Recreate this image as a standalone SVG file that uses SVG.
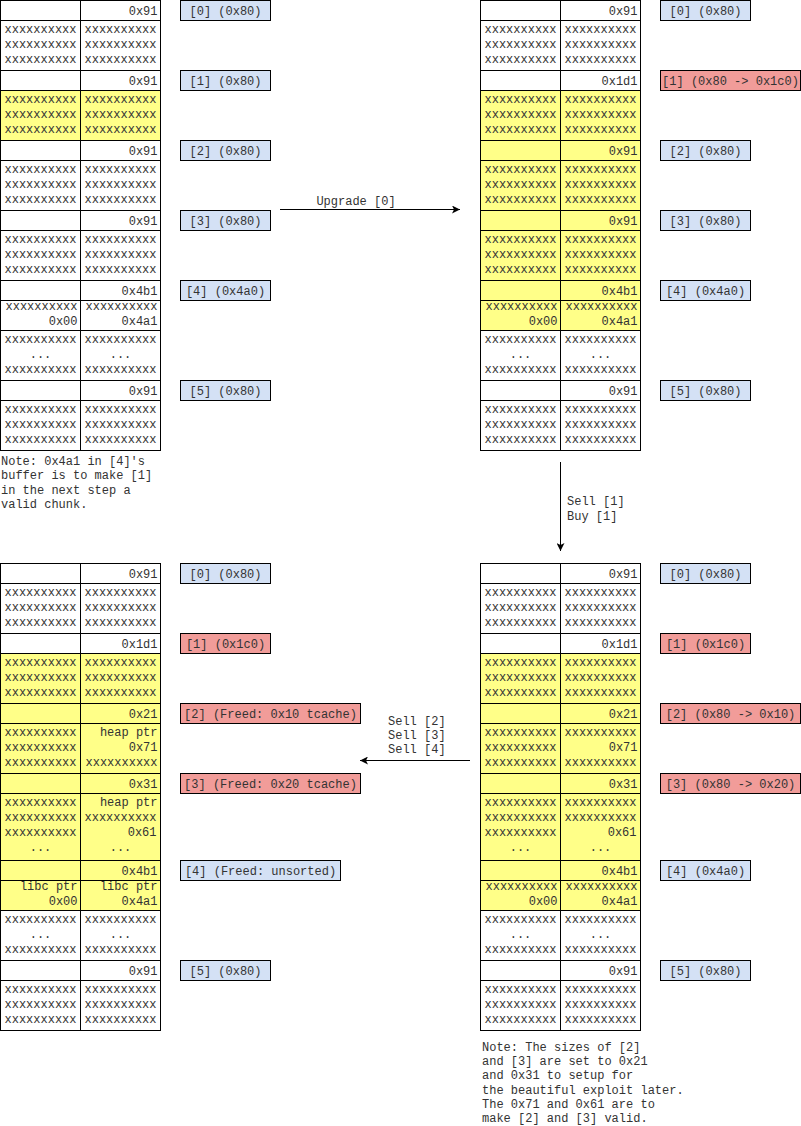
<svg xmlns="http://www.w3.org/2000/svg" width="801" height="1126" viewBox="0 0 801 1126">
  <defs>
    <style>
      .cell{fill:#ffffff;stroke:#000000;stroke-width:1}
      .hl{fill:#ffff88}
      text{font-family:"Liberation Mono","Courier New",monospace;font-size:12px;fill:#333333}
      .r{text-anchor:end}
      .m{text-anchor:middle}
      .lab{stroke:#000000;stroke-width:1}
      .blue{fill:#d4e1f5}
      .red{fill:#f19c99}
      .edge{stroke:#000000;stroke-width:1;fill:none;marker-end:url(#arrow)}
    </style>
    <marker id="arrow" viewBox="0 0 10 10" refX="10" refY="5" markerWidth="8" markerHeight="8" orient="auto" markerUnits="userSpaceOnUse">
      <path d="M0,0 L10,5 L0,10 L2.5,5 Z" fill="#000000"/>
    </marker>
  </defs>

  <!-- Heap state 1: initial layout -->
  <g id="heap-initial" transform="translate(0.5,0.5)">
    <rect class="cell" x="0" y="0" width="80" height="20"/><rect class="cell" x="80" y="0" width="80" height="20"/>
    <text class="r" x="157" y="14">0x91</text>
    <rect class="cell" x="0" y="20" width="80" height="50"/><rect class="cell" x="80" y="20" width="80" height="50"/>
    <text class="m" x="40" y="32">xxxxxxxxxx<tspan x="40" dy="15">xxxxxxxxxx</tspan><tspan x="40" dy="15">xxxxxxxxxx</tspan></text>
    <text class="m" x="120" y="32">xxxxxxxxxx<tspan x="120" dy="15">xxxxxxxxxx</tspan><tspan x="120" dy="15">xxxxxxxxxx</tspan></text>
    <rect class="cell" x="0" y="70" width="80" height="20"/><rect class="cell" x="80" y="70" width="80" height="20"/>
    <text class="r" x="157" y="84">0x91</text>
    <rect class="cell hl" x="0" y="90" width="80" height="50"/><rect class="cell hl" x="80" y="90" width="80" height="50"/>
    <text class="m" x="40" y="102">xxxxxxxxxx<tspan x="40" dy="15">xxxxxxxxxx</tspan><tspan x="40" dy="15">xxxxxxxxxx</tspan></text>
    <text class="m" x="120" y="102">xxxxxxxxxx<tspan x="120" dy="15">xxxxxxxxxx</tspan><tspan x="120" dy="15">xxxxxxxxxx</tspan></text>
    <rect class="cell" x="0" y="140" width="80" height="20"/><rect class="cell" x="80" y="140" width="80" height="20"/>
    <text class="r" x="157" y="154">0x91</text>
    <rect class="cell" x="0" y="160" width="80" height="50"/><rect class="cell" x="80" y="160" width="80" height="50"/>
    <text class="m" x="40" y="172">xxxxxxxxxx<tspan x="40" dy="15">xxxxxxxxxx</tspan><tspan x="40" dy="15">xxxxxxxxxx</tspan></text>
    <text class="m" x="120" y="172">xxxxxxxxxx<tspan x="120" dy="15">xxxxxxxxxx</tspan><tspan x="120" dy="15">xxxxxxxxxx</tspan></text>
    <rect class="cell" x="0" y="210" width="80" height="20"/><rect class="cell" x="80" y="210" width="80" height="20"/>
    <text class="r" x="157" y="224">0x91</text>
    <rect class="cell" x="0" y="230" width="80" height="50"/><rect class="cell" x="80" y="230" width="80" height="50"/>
    <text class="m" x="40" y="242">xxxxxxxxxx<tspan x="40" dy="15">xxxxxxxxxx</tspan><tspan x="40" dy="15">xxxxxxxxxx</tspan></text>
    <text class="m" x="120" y="242">xxxxxxxxxx<tspan x="120" dy="15">xxxxxxxxxx</tspan><tspan x="120" dy="15">xxxxxxxxxx</tspan></text>
    <rect class="cell" x="0" y="280" width="80" height="20"/><rect class="cell" x="80" y="280" width="80" height="20"/>
    <text class="r" x="157" y="294">0x4b1</text>
    <rect class="cell" x="0" y="300" width="80" height="30"/><rect class="cell" x="80" y="300" width="80" height="30"/>
    <text class="r" x="77" y="309">xxxxxxxxxx<tspan x="77" dy="15">0x00</tspan></text>
    <text class="r" x="157" y="309">xxxxxxxxxx<tspan x="157" dy="15">0x4a1</tspan></text>
    <rect class="cell" x="0" y="330" width="80" height="50"/><rect class="cell" x="80" y="330" width="80" height="50"/>
    <text class="m" x="40" y="342">xxxxxxxxxx<tspan x="40" dy="15">...</tspan><tspan x="40" dy="15">xxxxxxxxxx</tspan></text>
    <text class="m" x="120" y="342">xxxxxxxxxx<tspan x="120" dy="15">...</tspan><tspan x="120" dy="15">xxxxxxxxxx</tspan></text>
    <rect class="cell" x="0" y="380" width="80" height="20"/><rect class="cell" x="80" y="380" width="80" height="20"/>
    <text class="r" x="157" y="394">0x91</text>
    <rect class="cell" x="0" y="400" width="80" height="50"/><rect class="cell" x="80" y="400" width="80" height="50"/>
    <text class="m" x="40" y="412">xxxxxxxxxx<tspan x="40" dy="15">xxxxxxxxxx</tspan><tspan x="40" dy="15">xxxxxxxxxx</tspan></text>
    <text class="m" x="120" y="412">xxxxxxxxxx<tspan x="120" dy="15">xxxxxxxxxx</tspan><tspan x="120" dy="15">xxxxxxxxxx</tspan></text>
  </g>

  <g id="labels-initial" transform="translate(0.5,0.5)">
    <g id="l1-0"><rect class="lab blue" x="180" y="0" width="90" height="20"/><text class="m" x="225" y="14">[0] (0x80)</text></g>
    <g id="l1-1"><rect class="lab blue" x="180" y="70" width="90" height="20"/><text class="m" x="225" y="84">[1] (0x80)</text></g>
    <g id="l1-2"><rect class="lab blue" x="180" y="140" width="90" height="20"/><text class="m" x="225" y="154">[2] (0x80)</text></g>
    <g id="l1-3"><rect class="lab blue" x="180" y="210" width="90" height="20"/><text class="m" x="225" y="224">[3] (0x80)</text></g>
    <g id="l1-4"><rect class="lab blue" x="180" y="280" width="90" height="20"/><text class="m" x="225" y="294">[4] (0x4a0)</text></g>
    <g id="l1-5"><rect class="lab blue" x="180" y="380" width="90" height="20"/><text class="m" x="225" y="394">[5] (0x80)</text></g>
  </g>

  <g id="note-1">
    <text x="1" y="465">Note: 0x4a1 in [4]'s<tspan x="1" dy="14.4">buffer is to make [1]</tspan><tspan x="1" dy="14.4">in the next step a</tspan><tspan x="1" dy="14.4">valid chunk.</tspan></text>
  </g>

  <!-- Heap state 2: after upgrade of [0] -->
  <g id="heap-upgraded" transform="translate(480.5,0.5)">
    <rect class="cell" x="0" y="0" width="80" height="20"/><rect class="cell" x="80" y="0" width="80" height="20"/>
    <text class="r" x="157" y="14">0x91</text>
    <rect class="cell" x="0" y="20" width="80" height="50"/><rect class="cell" x="80" y="20" width="80" height="50"/>
    <text class="m" x="40" y="32">xxxxxxxxxx<tspan x="40" dy="15">xxxxxxxxxx</tspan><tspan x="40" dy="15">xxxxxxxxxx</tspan></text>
    <text class="m" x="120" y="32">xxxxxxxxxx<tspan x="120" dy="15">xxxxxxxxxx</tspan><tspan x="120" dy="15">xxxxxxxxxx</tspan></text>
    <rect class="cell" x="0" y="70" width="80" height="20"/><rect class="cell" x="80" y="70" width="80" height="20"/>
    <text class="r" x="157" y="84">0x1d1</text>
    <rect class="cell hl" x="0" y="90" width="80" height="50"/><rect class="cell hl" x="80" y="90" width="80" height="50"/>
    <text class="m" x="40" y="102">xxxxxxxxxx<tspan x="40" dy="15">xxxxxxxxxx</tspan><tspan x="40" dy="15">xxxxxxxxxx</tspan></text>
    <text class="m" x="120" y="102">xxxxxxxxxx<tspan x="120" dy="15">xxxxxxxxxx</tspan><tspan x="120" dy="15">xxxxxxxxxx</tspan></text>
    <rect class="cell hl" x="0" y="140" width="80" height="20"/><rect class="cell hl" x="80" y="140" width="80" height="20"/>
    <text class="r" x="157" y="154">0x91</text>
    <rect class="cell hl" x="0" y="160" width="80" height="50"/><rect class="cell hl" x="80" y="160" width="80" height="50"/>
    <text class="m" x="40" y="172">xxxxxxxxxx<tspan x="40" dy="15">xxxxxxxxxx</tspan><tspan x="40" dy="15">xxxxxxxxxx</tspan></text>
    <text class="m" x="120" y="172">xxxxxxxxxx<tspan x="120" dy="15">xxxxxxxxxx</tspan><tspan x="120" dy="15">xxxxxxxxxx</tspan></text>
    <rect class="cell hl" x="0" y="210" width="80" height="20"/><rect class="cell hl" x="80" y="210" width="80" height="20"/>
    <text class="r" x="157" y="224">0x91</text>
    <rect class="cell hl" x="0" y="230" width="80" height="50"/><rect class="cell hl" x="80" y="230" width="80" height="50"/>
    <text class="m" x="40" y="242">xxxxxxxxxx<tspan x="40" dy="15">xxxxxxxxxx</tspan><tspan x="40" dy="15">xxxxxxxxxx</tspan></text>
    <text class="m" x="120" y="242">xxxxxxxxxx<tspan x="120" dy="15">xxxxxxxxxx</tspan><tspan x="120" dy="15">xxxxxxxxxx</tspan></text>
    <rect class="cell hl" x="0" y="280" width="80" height="20"/><rect class="cell hl" x="80" y="280" width="80" height="20"/>
    <text class="r" x="157" y="294">0x4b1</text>
    <rect class="cell hl" x="0" y="300" width="80" height="30"/><rect class="cell hl" x="80" y="300" width="80" height="30"/>
    <text class="r" x="77" y="309">xxxxxxxxxx<tspan x="77" dy="15">0x00</tspan></text>
    <text class="r" x="157" y="309">xxxxxxxxxx<tspan x="157" dy="15">0x4a1</tspan></text>
    <rect class="cell" x="0" y="330" width="80" height="50"/><rect class="cell" x="80" y="330" width="80" height="50"/>
    <text class="m" x="40" y="342">xxxxxxxxxx<tspan x="40" dy="15">...</tspan><tspan x="40" dy="15">xxxxxxxxxx</tspan></text>
    <text class="m" x="120" y="342">xxxxxxxxxx<tspan x="120" dy="15">...</tspan><tspan x="120" dy="15">xxxxxxxxxx</tspan></text>
    <rect class="cell" x="0" y="380" width="80" height="20"/><rect class="cell" x="80" y="380" width="80" height="20"/>
    <text class="r" x="157" y="394">0x91</text>
    <rect class="cell" x="0" y="400" width="80" height="50"/><rect class="cell" x="80" y="400" width="80" height="50"/>
    <text class="m" x="40" y="412">xxxxxxxxxx<tspan x="40" dy="15">xxxxxxxxxx</tspan><tspan x="40" dy="15">xxxxxxxxxx</tspan></text>
    <text class="m" x="120" y="412">xxxxxxxxxx<tspan x="120" dy="15">xxxxxxxxxx</tspan><tspan x="120" dy="15">xxxxxxxxxx</tspan></text>
  </g>

  <g id="labels-upgraded" transform="translate(0.5,0.5)">
    <g id="l2-0"><rect class="lab blue" x="660" y="0" width="90" height="20"/><text class="m" x="705" y="14">[0] (0x80)</text></g>
    <g id="l2-1"><rect class="lab red" x="660" y="70" width="140" height="20"/><text class="m" x="730" y="84">[1] (0x80 -&gt; 0x1c0)</text></g>
    <g id="l2-2"><rect class="lab blue" x="660" y="140" width="90" height="20"/><text class="m" x="705" y="154">[2] (0x80)</text></g>
    <g id="l2-3"><rect class="lab blue" x="660" y="210" width="90" height="20"/><text class="m" x="705" y="224">[3] (0x80)</text></g>
    <g id="l2-4"><rect class="lab blue" x="660" y="280" width="90" height="20"/><text class="m" x="705" y="294">[4] (0x4a0)</text></g>
    <g id="l2-5"><rect class="lab blue" x="660" y="380" width="90" height="20"/><text class="m" x="705" y="394">[5] (0x80)</text></g>
  </g>

  <!-- Heap state 3: after sell/buy of [1] -->
  <g id="heap-rebought" transform="translate(480.5,563.5)">
    <rect class="cell" x="0" y="0" width="80" height="20"/><rect class="cell" x="80" y="0" width="80" height="20"/>
    <text class="r" x="157" y="14">0x91</text>
    <rect class="cell" x="0" y="20" width="80" height="50"/><rect class="cell" x="80" y="20" width="80" height="50"/>
    <text class="m" x="40" y="32">xxxxxxxxxx<tspan x="40" dy="15">xxxxxxxxxx</tspan><tspan x="40" dy="15">xxxxxxxxxx</tspan></text>
    <text class="m" x="120" y="32">xxxxxxxxxx<tspan x="120" dy="15">xxxxxxxxxx</tspan><tspan x="120" dy="15">xxxxxxxxxx</tspan></text>
    <rect class="cell" x="0" y="70" width="80" height="20"/><rect class="cell" x="80" y="70" width="80" height="20"/>
    <text class="r" x="157" y="84">0x1d1</text>
    <rect class="cell hl" x="0" y="90" width="80" height="50"/><rect class="cell hl" x="80" y="90" width="80" height="50"/>
    <text class="m" x="40" y="102">xxxxxxxxxx<tspan x="40" dy="15">xxxxxxxxxx</tspan><tspan x="40" dy="15">xxxxxxxxxx</tspan></text>
    <text class="m" x="120" y="102">xxxxxxxxxx<tspan x="120" dy="15">xxxxxxxxxx</tspan><tspan x="120" dy="15">xxxxxxxxxx</tspan></text>
    <rect class="cell hl" x="0" y="140" width="80" height="20"/><rect class="cell hl" x="80" y="140" width="80" height="20"/>
    <text class="r" x="157" y="154">0x21</text>
    <rect class="cell hl" x="0" y="160" width="80" height="50"/><rect class="cell hl" x="80" y="160" width="80" height="50"/>
    <text class="m" x="40" y="172">xxxxxxxxxx<tspan x="40" dy="15">xxxxxxxxxx</tspan><tspan x="40" dy="15">xxxxxxxxxx</tspan></text>
    <text class="m" x="120" y="172">xxxxxxxxxx</text>
    <text class="r" x="157" y="187">0x71</text>
    <text class="m" x="120" y="202">xxxxxxxxxx</text>
    <rect class="cell hl" x="0" y="210" width="80" height="20"/><rect class="cell hl" x="80" y="210" width="80" height="20"/>
    <text class="r" x="157" y="224">0x31</text>
    <rect class="cell hl" x="0" y="230" width="80" height="67"/><rect class="cell hl" x="80" y="230" width="80" height="67"/>
    <text class="m" x="40" y="242">xxxxxxxxxx<tspan x="40" dy="15">xxxxxxxxxx</tspan><tspan x="40" dy="15">xxxxxxxxxx</tspan><tspan x="40" dy="15">...</tspan></text>
    <text class="m" x="120" y="242">xxxxxxxxxx<tspan x="120" dy="15">xxxxxxxxxx</tspan></text>
    <text class="r" x="156" y="272">0x61</text>
    <text class="m" x="120" y="287">...</text>
    <rect class="cell hl" x="0" y="297" width="80" height="20"/><rect class="cell hl" x="80" y="297" width="80" height="20"/>
    <text class="r" x="157" y="311">0x4b1</text>
    <rect class="cell hl" x="0" y="317" width="80" height="30"/><rect class="cell hl" x="80" y="317" width="80" height="30"/>
    <text class="r" x="77" y="326">xxxxxxxxxx<tspan x="77" dy="15">0x00</tspan></text>
    <text class="r" x="157" y="326">xxxxxxxxxx<tspan x="157" dy="15">0x4a1</tspan></text>
    <rect class="cell" x="0" y="347" width="80" height="50"/><rect class="cell" x="80" y="347" width="80" height="50"/>
    <text class="m" x="40" y="359">xxxxxxxxxx<tspan x="40" dy="15">...</tspan><tspan x="40" dy="15">xxxxxxxxxx</tspan></text>
    <text class="m" x="120" y="359">xxxxxxxxxx<tspan x="120" dy="15">...</tspan><tspan x="120" dy="15">xxxxxxxxxx</tspan></text>
    <rect class="cell" x="0" y="397" width="80" height="20"/><rect class="cell" x="80" y="397" width="80" height="20"/>
    <text class="r" x="157" y="411">0x91</text>
    <rect class="cell" x="0" y="417" width="80" height="50"/><rect class="cell" x="80" y="417" width="80" height="50"/>
    <text class="m" x="40" y="429">xxxxxxxxxx<tspan x="40" dy="15">xxxxxxxxxx</tspan><tspan x="40" dy="15">xxxxxxxxxx</tspan></text>
    <text class="m" x="120" y="429">xxxxxxxxxx<tspan x="120" dy="15">xxxxxxxxxx</tspan><tspan x="120" dy="15">xxxxxxxxxx</tspan></text>
  </g>

  <g id="labels-rebought" transform="translate(0.5,0.5)">
    <g id="l3-0"><rect class="lab blue" x="660" y="563" width="90" height="20"/><text class="m" x="705" y="577">[0] (0x80)</text></g>
    <g id="l3-1"><rect class="lab red" x="660" y="633" width="90" height="20"/><text class="m" x="705" y="647">[1] (0x1c0)</text></g>
    <g id="l3-2"><rect class="lab red" x="660" y="703" width="140" height="20"/><text class="m" x="730" y="717">[2] (0x80 -&gt; 0x10)</text></g>
    <g id="l3-3"><rect class="lab red" x="660" y="773" width="140" height="20"/><text class="m" x="730" y="787">[3] (0x80 -&gt; 0x20)</text></g>
    <g id="l3-4"><rect class="lab blue" x="660" y="860" width="90" height="20"/><text class="m" x="705" y="874">[4] (0x4a0)</text></g>
    <g id="l3-5"><rect class="lab blue" x="660" y="960" width="90" height="20"/><text class="m" x="705" y="974">[5] (0x80)</text></g>
  </g>

  <g id="note-2">
    <text x="482" y="1051">Note: The sizes of [2]<tspan x="482" dy="14.2">and [3] are set to 0x21</tspan><tspan x="482" dy="14.2">and 0x31 to setup for</tspan><tspan x="482" dy="14.2">the beautiful exploit later.</tspan><tspan x="482" dy="14.2">The 0x71 and 0x61 are to</tspan><tspan x="482" dy="14.2">make [2] and [3] valid.</tspan></text>
  </g>

  <!-- Heap state 4: after selling [2], [3], [4] -->
  <g id="heap-freed" transform="translate(0.5,563.5)">
    <rect class="cell" x="0" y="0" width="80" height="20"/><rect class="cell" x="80" y="0" width="80" height="20"/>
    <text class="r" x="157" y="14">0x91</text>
    <rect class="cell" x="0" y="20" width="80" height="50"/><rect class="cell" x="80" y="20" width="80" height="50"/>
    <text class="m" x="40" y="32">xxxxxxxxxx<tspan x="40" dy="15">xxxxxxxxxx</tspan><tspan x="40" dy="15">xxxxxxxxxx</tspan></text>
    <text class="m" x="120" y="32">xxxxxxxxxx<tspan x="120" dy="15">xxxxxxxxxx</tspan><tspan x="120" dy="15">xxxxxxxxxx</tspan></text>
    <rect class="cell" x="0" y="70" width="80" height="20"/><rect class="cell" x="80" y="70" width="80" height="20"/>
    <text class="r" x="157" y="84">0x1d1</text>
    <rect class="cell hl" x="0" y="90" width="80" height="50"/><rect class="cell hl" x="80" y="90" width="80" height="50"/>
    <text class="m" x="40" y="102">xxxxxxxxxx<tspan x="40" dy="15">xxxxxxxxxx</tspan><tspan x="40" dy="15">xxxxxxxxxx</tspan></text>
    <text class="m" x="120" y="102">xxxxxxxxxx<tspan x="120" dy="15">xxxxxxxxxx</tspan><tspan x="120" dy="15">xxxxxxxxxx</tspan></text>
    <rect class="cell hl" x="0" y="140" width="80" height="20"/><rect class="cell hl" x="80" y="140" width="80" height="20"/>
    <text class="r" x="157" y="154">0x21</text>
    <rect class="cell hl" x="0" y="160" width="80" height="50"/><rect class="cell hl" x="80" y="160" width="80" height="50"/>
    <text class="m" x="40" y="172">xxxxxxxxxx<tspan x="40" dy="15">xxxxxxxxxx</tspan><tspan x="40" dy="15">xxxxxxxxxx</tspan></text>
    <text class="r" x="157" y="172">heap ptr<tspan x="157" dy="15">0x71</tspan><tspan x="157" dy="15">xxxxxxxxxx</tspan></text>
    <rect class="cell hl" x="0" y="210" width="80" height="20"/><rect class="cell hl" x="80" y="210" width="80" height="20"/>
    <text class="r" x="157" y="224">0x31</text>
    <rect class="cell hl" x="0" y="230" width="80" height="67"/><rect class="cell hl" x="80" y="230" width="80" height="67"/>
    <text class="m" x="40" y="242">xxxxxxxxxx<tspan x="40" dy="15">xxxxxxxxxx</tspan><tspan x="40" dy="15">xxxxxxxxxx</tspan><tspan x="40" dy="15">...</tspan></text>
    <text class="r" x="157" y="242">heap ptr</text>
    <text class="m" x="120" y="257">xxxxxxxxxx</text>
    <text class="r" x="156" y="272">0x61</text>
    <text class="m" x="120" y="287">...</text>
    <rect class="cell hl" x="0" y="297" width="80" height="20"/><rect class="cell hl" x="80" y="297" width="80" height="20"/>
    <text class="r" x="157" y="311">0x4b1</text>
    <rect class="cell hl" x="0" y="317" width="80" height="30"/><rect class="cell hl" x="80" y="317" width="80" height="30"/>
    <text class="r" x="77" y="326">libc ptr<tspan x="77" dy="15">0x00</tspan></text>
    <text class="r" x="157" y="326">libc ptr<tspan x="157" dy="15">0x4a1</tspan></text>
    <rect class="cell" x="0" y="347" width="80" height="50"/><rect class="cell" x="80" y="347" width="80" height="50"/>
    <text class="m" x="40" y="359">xxxxxxxxxx<tspan x="40" dy="15">...</tspan><tspan x="40" dy="15">xxxxxxxxxx</tspan></text>
    <text class="m" x="120" y="359">xxxxxxxxxx<tspan x="120" dy="15">...</tspan><tspan x="120" dy="15">xxxxxxxxxx</tspan></text>
    <rect class="cell" x="0" y="397" width="80" height="20"/><rect class="cell" x="80" y="397" width="80" height="20"/>
    <text class="r" x="157" y="411">0x91</text>
    <rect class="cell" x="0" y="417" width="80" height="50"/><rect class="cell" x="80" y="417" width="80" height="50"/>
    <text class="m" x="40" y="429">xxxxxxxxxx<tspan x="40" dy="15">xxxxxxxxxx</tspan><tspan x="40" dy="15">xxxxxxxxxx</tspan></text>
    <text class="m" x="120" y="429">xxxxxxxxxx<tspan x="120" dy="15">xxxxxxxxxx</tspan><tspan x="120" dy="15">xxxxxxxxxx</tspan></text>
  </g>

  <g id="labels-freed" transform="translate(0.5,0.5)">
    <g id="l4-0"><rect class="lab blue" x="180" y="563" width="90" height="20"/><text class="m" x="225" y="577">[0] (0x80)</text></g>
    <g id="l4-1"><rect class="lab red" x="180" y="633" width="90" height="20"/><text class="m" x="225" y="647">[1] (0x1c0)</text></g>
    <g id="l4-2"><rect class="lab red" x="180" y="703" width="180" height="20"/><text class="m" x="270" y="717">[2] (Freed: 0x10 tcache)</text></g>
    <g id="l4-3"><rect class="lab red" x="180" y="773" width="180" height="20"/><text class="m" x="270" y="787">[3] (Freed: 0x20 tcache)</text></g>
    <g id="l4-4"><rect class="lab blue" x="180" y="860" width="160" height="20"/><text class="m" x="260" y="874">[4] (Freed: unsorted)</text></g>
    <g id="l4-5"><rect class="lab blue" x="180" y="960" width="90" height="20"/><text class="m" x="225" y="974">[5] (0x80)</text></g>
  </g>

  <!-- Transitions between heap states -->
  <g id="connectors">
    <line class="edge" x1="280" y1="209.5" x2="460" y2="209.5"/>
    <text class="m" x="356" y="205">Upgrade [0]</text>
    <line class="edge" x1="560.5" y1="462" x2="560.5" y2="551"/>
    <text x="567" y="505">Sell [1]<tspan x="567" dy="15">Buy [1]</tspan></text>
    <line class="edge" x1="470" y1="760.5" x2="360" y2="760.5"/>
    <text x="388" y="725">Sell [2]<tspan x="388" dy="14">Sell [3]</tspan><tspan x="388" dy="14">Sell [4]</tspan></text>
  </g>
</svg>
